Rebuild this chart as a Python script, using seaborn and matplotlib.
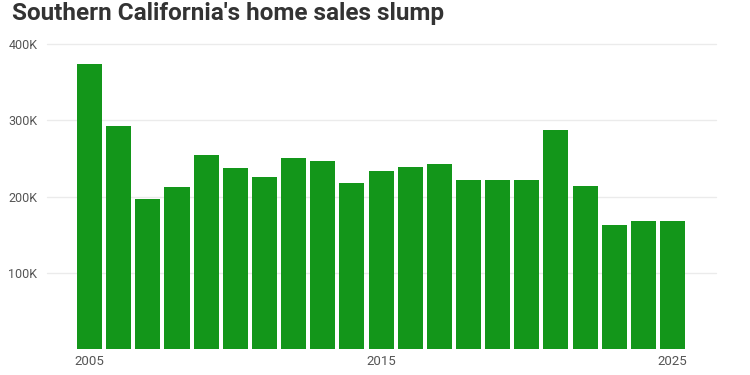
import matplotlib
matplotlib.use("Agg")
import matplotlib.pyplot as plt
import seaborn as sns
import pandas as pd

years = list(range(2005, 2026))
sales = [374000, 292000, 197000, 212000, 255000, 238000, 226000, 250000, 247000,
         218000, 234000, 239000, 242000, 222000, 221000, 222000, 287000, 214000,
         162000, 168000, 168000]
xtick_years = [2005, 2015, 2025]
ytick_values = [100000, 200000, 300000, 400000]
ytick_labels = ["100K", "200K", "300K", "400K"]
title = "Southern California's home sales slump"

sns.set_theme(style="white")
plt.rcParams["font.family"] = ["Roboto", "DejaVu Sans"]

df = pd.DataFrame({"year": years, "sales": sales})

fig = plt.figure(figsize=(7.5, 3.75), dpi=100)
ax = fig.add_axes([47 / 750, 1 - 349 / 375, (716 - 47) / 750, (349 - 44) / 375])

sns.barplot(data=df, x="year", y="sales", color="#13961a", saturation=1,
            width=0.86, ax=ax, linewidth=0)

ax.set_ylim(0, 400000)
ax.set_xlim(-1.46, 21.49)
ax.set_yticks(ytick_values)
ax.set_yticklabels(ytick_labels)
pos = [years.index(y) for y in xtick_years]
ax.set_xticks(pos)
ax.set_xticklabels([str(y) for y in xtick_years])
ax.set_xlabel("")
ax.set_ylabel("")
ax.grid(axis="y", color="#ebebeb", linewidth=1)
ax.set_axisbelow(True)
for s in ax.spines.values():
    s.set_visible(False)
ax.tick_params(axis="y", length=0, pad=7, labelsize=9, labelcolor="#555555")
ax.tick_params(axis="x", length=0, pad=4, labelsize=9.5, labelcolor="#555555")
for g in ax.get_ygridlines():
    g.set_clip_on(False)

fig.text(12 / 750, 1 - 20 / 375, title, fontsize=17.5, fontweight="bold",
         color="#333333", family=["Roboto", "DejaVu Sans"],
         va="baseline", ha="left")

fig.savefig("out.png", dpi=100)
